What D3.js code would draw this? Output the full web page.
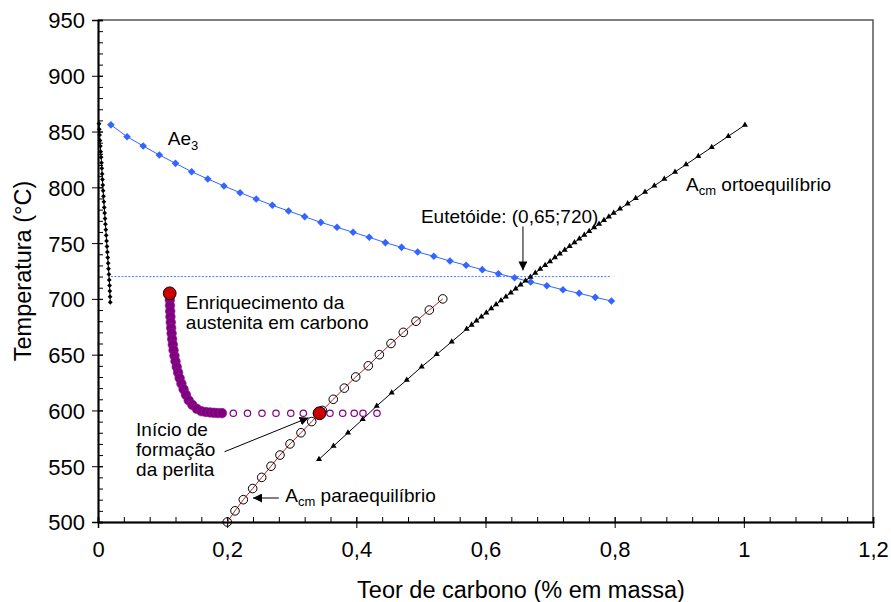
<!DOCTYPE html>
<html><head><meta charset="utf-8">
<script src="https://cdn.jsdelivr.net/npm/d3@7"></script>
<style>
body{margin:0;background:#fff}
text{font-family:"Liberation Sans",Arial,Helvetica,sans-serif;fill:#000}
</style>
</head><body>
<svg id="chart" width="891" height="602"></svg>
<script>
// ---------- data ----------
const xTicks = [0, 0.2, 0.4, 0.6, 0.8, 1.0, 1.2];
const xTickLabels = ["0", "0,2", "0,4", "0,6", "0,8", "1", "1,2"];
const yTicks = [500, 550, 600, 650, 700, 750, 800, 850, 900, 950];
const yTickLabels = ["500", "550", "600", "650", "700", "750", "800", "850", "900", "950"];

// ferrite boundary (left black curve)
const ferriteC = [0.0015,0.0020,0.0025,0.0030,0.0036,0.0042,0.0048,0.0054,0.0059,0.0064,0.0069,0.0074,0.0079,0.0085,0.0091,0.0097,0.0103,0.0109,0.0115,0.0121,0.0127,0.0133,0.0139,0.0145,0.0151,0.0157,0.0163,0.0169,0.0174,0.0179,0.0183,0.0187,0.0190];
const ferriteT = [857,852,847,842,837,832,827,822,817,812,807,802,797,792,787,782,777,772,767,762,757,752,747,742,737,732,727,722,717,712,707,702,697];

// Ae3
const ae3C = [0.020,0.045,0.070,0.095,0.120,0.145,0.170,0.195,0.220,0.245,0.270,0.295,0.320,0.345,0.370,0.395,0.420,0.445,0.470,0.495,0.520,0.545,0.570,0.595,0.620,0.645,0.670,0.695,0.720,0.745,0.770,0.795];
const ae3T = [856.0,845.4,837.0,829.0,821.5,814.0,807.5,801.2,795.2,789.5,783.9,778.8,773.7,768.6,764.2,759.7,755.2,750.4,746.2,742.0,738.2,734.0,730.1,726.2,722.6,719.0,715.1,711.8,708.2,705.0,701.4,698.1];

// eutectoid temperature line
const eutLineC = [0.02, 0.795];
const eutLineT = [720, 720];

// Acm ortoequilibrio
const acmOrtoC = [0.3422,0.3647,0.3871,0.4099,0.4316,0.4548,0.4781,0.5012,0.5245,0.5477,0.5709,0.5785,0.5861,0.5937,0.6013,0.6089,0.6164,0.6240,0.6316,0.6392,0.6468,0.6544,0.6620,0.6696,0.6771,0.6847,0.6923,0.6999,0.7075,0.7151,0.7227,0.7303,0.7378,0.7454,0.7530,0.7606,0.7682,0.7758,0.7834,0.7910,0.7985,0.8083,0.8202,0.8326,0.8470,0.8614,0.8769,0.8935,0.9105,0.9295,0.9503,0.9760,1.0017];
const acmOrtoT = [556.2,568.1,580.0,592.1,604.0,615.9,627.3,639.2,650.3,661.6,673.0,676.7,680.3,684.0,687.6,691.3,694.9,698.5,702.0,705.6,709.1,712.7,716.2,719.7,723.2,726.7,730.1,733.6,737.0,740.4,743.8,747.1,750.5,753.9,757.3,760.6,763.9,767.1,770.4,773.7,777.0,780.7,785.4,790.2,795.8,801.4,807.4,813.8,820.5,827.8,835.9,845.8,855.9];

// Acm paraequilibrio
const acmParaC = [0.2002,0.2121,0.2250,0.2395,0.2535,0.2679,0.2818,0.2973,0.3143,0.3309,0.3473,0.3643,0.3814,0.3990,0.4185,0.4356,0.4537,0.4727,0.4924,0.5130,0.5338];
const acmParaT = [500,510,520,530,540,550,560,570,580,590,600,610,620,630,640,650,660,670,680,690,700];

// austenite enrichment path (thick purple)
const enrichC = [0.1110,0.1112,0.1115,0.1118,0.1122,0.1127,0.1133,0.1140,0.1148,0.1158,0.1170,0.1184,0.1200,0.1219,0.1240,0.1264,0.1292,0.1325,0.1362,0.1405,0.1460,0.1530,0.1600,0.1670,0.1735,0.1795,0.1855,0.1920];
const enrichT = [704,699,694,689,684,679,674,669,664,659,654,649,644,639,634,629,624,619,614,609,605.0,601.5,599.3,598.6,598.2,597.9,597.7,597.6];

// open purple circles
const openC = [0.2095,0.2315,0.2539,0.2756,0.2985,0.3179,0.3386,0.3592,0.3789,0.3967,0.4103,0.4320];
const openT = [597.5,597.5,597.5,597.5,597.5,597.5,597.5,597.5,597.5,597.5,597.5,597.5];

// highlighted points
const redC = [0.111, 0.343];
const redT = [705, 597.5];

// ---------- drawing ----------
const svg = d3.select("#chart");
const x = d3.scaleLinear().domain([0, 1.2]).range([98, 873]);
const y = d3.scaleLinear().domain([500, 950]).range([522, 20]);
const zip = (a, b) => a.map((v, i) => [v, b[i]]);
const line = d3.line().x(d => x(d[0])).y(d => y(d[1]));

// frame (top & right)
svg.append("path")
  .attr("d", `M${x(0)},${y(950)}H${x(1.2)}V${y(500)}`)
  .attr("fill", "none").attr("stroke", "#555").attr("stroke-width", 1.5);

// y axis
const yMinor = d3.range(500, 951, 10);
const gy = svg.append("g").attr("transform", `translate(${x(0)},0)`);
gy.call(d3.axisLeft(y).tickValues(yMinor).tickSize(-5).tickFormat(""));
gy.append("g").call(d3.axisLeft(y).tickValues(yTicks).tickSize(-5).tickFormat(""));
const gyl = svg.append("g").attr("transform", `translate(${x(0)},0)`)
  .call(d3.axisLeft(y).tickValues(yTicks).tickSize(6).tickPadding(7).tickFormat((d, i) => yTickLabels[i]));
gyl.selectAll("text").style("font-size", "22px").attr("dy", "0.36em");

// x axis
const xMinor = d3.range(0, 1.2001, 0.04);
const gx = svg.append("g").attr("transform", `translate(0,${y(500)})`);
gx.call(d3.axisBottom(x).tickValues(xMinor).tickSize(-5).tickFormat(""));
gx.append("g").call(d3.axisBottom(x).tickValues(xTicks).tickSize(-5).tickFormat(""));
const gxl = svg.append("g").attr("transform", `translate(0,${y(500)})`)
  .call(d3.axisBottom(x).tickValues(xTicks).tickSize(6).tickPadding(13).tickFormat((d, i) => xTickLabels[i]));
gxl.selectAll("text").style("font-size", "22px");
svg.selectAll(".domain").attr("stroke", "#000").attr("stroke-width", 1.5);
svg.selectAll(".tick line").attr("stroke", "#000");

// axis titles
svg.append("text").attr("x", 521).attr("y", 598)
  .attr("text-anchor", "middle").style("font-size", "23.5px").text("Teor de carbono (% em massa)");
svg.append("text").attr("transform", `translate(31,${(y(500) + y(950)) / 2}) rotate(-90)`)
  .attr("text-anchor", "middle").style("font-size", "23.5px").text("Temperatura (°C)");

const diamond = (s) => `M0,${-s}L${s},0L0,${s}L${-s},0Z`;

// eutectoid dotted line
svg.append("path").datum(zip(eutLineC, eutLineT)).attr("d", line)
  .attr("fill", "none").attr("stroke", "#4a7dff").attr("stroke-width", 1).attr("stroke-dasharray", "2,1.5");

// ferrite curve
const fer = zip(ferriteC, ferriteT);
svg.append("path").datum(fer).attr("d", line).attr("fill", "none").attr("stroke", "#000").attr("stroke-width", 1);
svg.append("g").selectAll("path").data(fer).join("path")
  .attr("transform", d => `translate(${x(d[0])},${y(d[1])})`).attr("d", diamond(2.4)).attr("fill", "#000");

// Ae3
const ae3 = zip(ae3C, ae3T);
svg.append("path").datum(ae3).attr("d", line).attr("fill", "none").attr("stroke", "#3366ff").attr("stroke-width", 1);
svg.append("g").selectAll("path").data(ae3).join("path")
  .attr("transform", d => `translate(${x(d[0])},${y(d[1])})`).attr("d", diamond(3.8)).attr("fill", "#3366ff");

// Acm orto
const orto = zip(acmOrtoC, acmOrtoT);
svg.append("path").datum(orto).attr("d", line).attr("fill", "none").attr("stroke", "#000").attr("stroke-width", 1);
const tri = d3.symbol(d3.symbolTriangle, 16);
svg.append("g").selectAll("path").data(orto).join("path")
  .attr("transform", d => `translate(${x(d[0])},${y(d[1])})`).attr("d", tri).attr("fill", "#000");

// Acm para
const para = zip(acmParaC, acmParaT);
svg.append("path").datum(para).attr("d", line).attr("fill", "none").attr("stroke", "#b22222").attr("stroke-width", 1);
svg.append("g").selectAll("circle").data(para).join("circle")
  .attr("cx", d => x(d[0])).attr("cy", d => y(d[1])).attr("r", 4.3)
  .attr("fill", "none").attr("stroke", "#000").attr("stroke-width", 1);

// enrichment path
svg.append("g").selectAll("circle").data(zip(enrichC, enrichT)).join("circle")
  .attr("cx", d => x(d[0])).attr("cy", d => y(d[1])).attr("r", 4.8)
  .attr("fill", "#800080").attr("stroke", "#8e1c8e").attr("stroke-width", 0.6);

// open purple circles
svg.append("g").selectAll("circle").data(zip(openC, openT)).join("circle")
  .attr("cx", d => x(d[0])).attr("cy", d => y(d[1])).attr("r", 3.2)
  .attr("fill", "none").attr("stroke", "#800080").attr("stroke-width", 1.2);

// red points
svg.append("g").selectAll("circle").data(zip(redC, redT)).join("circle")
  .attr("cx", d => x(d[0])).attr("cy", d => y(d[1])).attr("r", 6.4)
  .attr("fill", "#cc0000").attr("stroke", "#000").attr("stroke-width", 1);

// arrow marker
svg.append("defs").append("marker").attr("id", "ah").attr("viewBox", "0 0 10 10")
  .attr("refX", 10).attr("refY", 5).attr("markerWidth", 9).attr("markerHeight", 9)
  .attr("markerUnits", "userSpaceOnUse").attr("orient", "auto")
  .append("path").attr("d", "M0,0L10,5L0,10Z").attr("fill", "#000");

const arrow = (x1, y1, x2, y2) => svg.append("line")
  .attr("x1", x(x1)).attr("y1", y(y1)).attr("x2", x(x2)).attr("y2", y(y2))
  .attr("stroke", "#000").attr("stroke-width", 1).attr("marker-end", "url(#ah)");

// annotations
const ann = (cx, ty, str) => svg.append("text").attr("x", x(cx)).attr("y", y(ty)).style("font-size", "19px").text(str);

const tAe = ann(0.108, 838, "Ae");
tAe.append("tspan").attr("dy", 5).style("font-size", "13px").text("3");

const tOrto = ann(0.9105, 796.5, "A");
tOrto.append("tspan").attr("dy", 4).style("font-size", "13px").text("cm");
tOrto.append("tspan").attr("dy", -4).text(" ortoequilíbrio");

ann(0.5, 768, "Eutetóide: (0,65;720)");
arrow(0.658, 765, 0.658, 725.5);

ann(0.136, 691, "Enriquecimento da");
ann(0.136, 673, "austenita em carbono");

ann(0.059, 577, "Início de");
ann(0.059, 559, "formação");
ann(0.059, 541, "da perlita");
arrow(0.196, 563, 0.326, 593.5);

const tPara = ann(0.290, 517.5, "A");
tPara.append("tspan").attr("dy", 4).style("font-size", "13px").text("cm");
tPara.append("tspan").attr("dy", -4).text(" paraequilíbrio");
arrow(0.280, 521.5, 0.240, 521.5);
</script>
</body></html>
